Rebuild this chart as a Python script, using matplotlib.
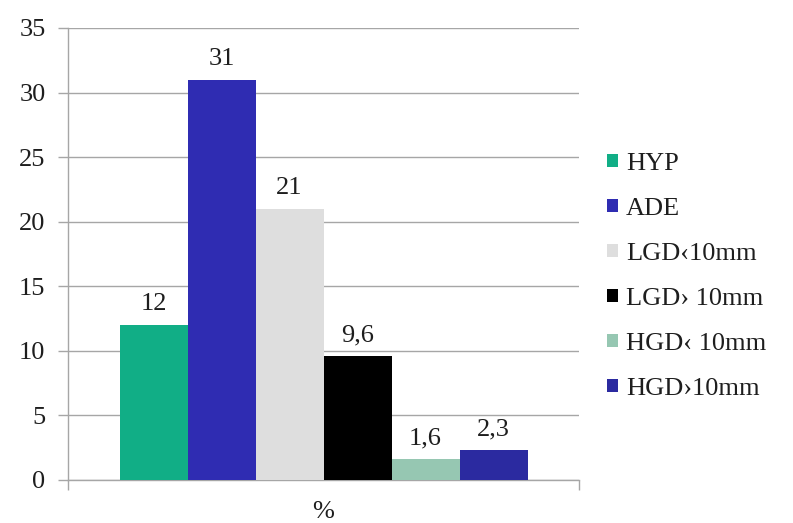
import matplotlib
matplotlib.use("Agg")
import matplotlib.pyplot as plt
from matplotlib.patches import Patch

categories = ["HYP", "ADE", "LGD\u203910mm", "LGD\u203a 10mm", "HGD\u2039 10mm", "HGD\u203a10mm"]
values = [12, 31, 21, 9.6, 1.6, 2.3]
value_labels = ["12", "31", "21", "9,6", "1,6", "2,3"]
colors = ["#11AE86", "#2F2CB2", "#DEDEDE", "#000000", "#96C7B2", "#2B2AA0"]
yticks = [0, 5, 10, 15, 20, 25, 30, 35]
xlabel = "%"

plt.rcParams["font.family"] = ["Liberation Serif", "DejaVu Serif"]
FS = 19
TXT = "#1E1E1E"
GRID = "#A6A6A6"

fig = plt.figure(figsize=(7.93, 5.23), dpi=100)
ax = fig.add_axes([68 / 793, 1 - 480 / 523, (579 - 68) / 793, (480 - 28) / 523])

n = len(values)
width = 68 / 511
offsets = [(i - (n - 1) / 2) * width for i in range(n)]
bars = ax.bar(offsets, values, width=width, color=colors, linewidth=0, zorder=3)

for b, lab in zip(bars, value_labels):
    ax.text(b.get_x() + b.get_width() / 2, b.get_height() + 0.75, lab,
            ha="center", va="bottom", fontsize=FS, color=TXT, zorder=4)

ax.set_xlim(-0.5, 0.5)
ax.set_ylim(0, 35)
ax.set_yticks(yticks)
ax.set_yticklabels([str(t) for t in yticks], fontsize=FS, color=TXT)
ax.tick_params(axis="y", length=7.2, color=GRID, width=1, pad=9)
ax.set_xticks([-0.5, 0.5])
ax.set_xticklabels(["", ""])
ax.tick_params(axis="x", length=7, color=GRID, width=1)
ax.yaxis.grid(True, color=GRID, linewidth=1, zorder=0)
ax.set_axisbelow(True)
for side in ["top", "right"]:
    ax.spines[side].set_visible(False)
for side in ["left", "bottom"]:
    ax.spines[side].set_color(GRID)
    ax.spines[side].set_linewidth(1)

fig.text(323 / 793, 1 - 512 / 523, xlabel, ha="center", va="center",
         fontsize=FS, color=TXT)

handles = [Patch(facecolor=c, edgecolor="none") for c in colors]
leg = fig.legend(handles, categories, loc="upper left",
                 bbox_to_anchor=(607 / 793, 1 - 153 / 523),
                 frameon=False, fontsize=FS, handlelength=0.42, handleheight=0.42,
                 handletextpad=0.3, labelspacing=0.87, borderaxespad=0,
                 borderpad=0)
for t in leg.get_texts():
    t.set_color(TXT)

fig.savefig("out.png", dpi=100, facecolor="white")
